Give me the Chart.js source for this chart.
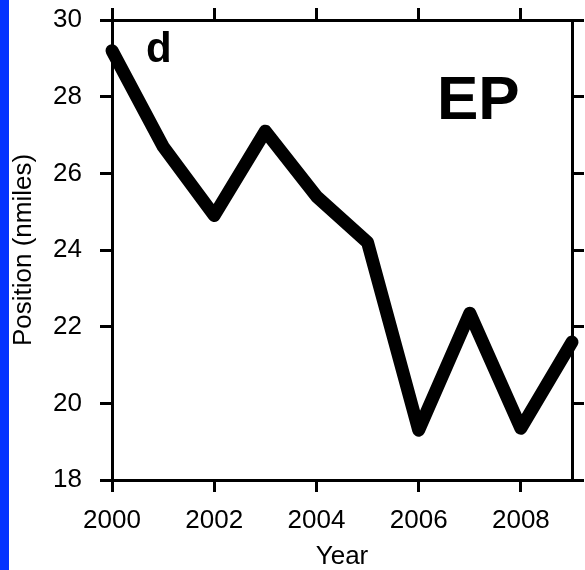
<!DOCTYPE html>
<html>
<head>
<meta charset="utf-8">
<script src="https://cdn.jsdelivr.net/npm/chart.js@4.4.1/dist/chart.umd.min.js"></script>
<style>
    html, body { margin: 0; padding: 0; background: #fff; }
    .wrap { position: relative; width: 585px; height: 570px; }
</style>
</head>
<body>
<div class="wrap"><canvas id="myChart"></canvas></div>
<script>
    //data
    const years = [2000, 2001, 2002, 2003, 2004, 2005, 2006, 2007, 2008, 2009]
    const positions = [29.2, 26.7, 24.9, 27.1, 25.4, 24.2, 19.3, 22.35, 19.35, 21.6]
    const xTicks = [2000, 2002, 2004, 2006, 2008]
    const yTicks = [18, 20, 22, 24, 26, 28, 30]
    const panelLetter = 'd'
    const basinLabel = 'EP'

    const family = '"Liberation Sans", Arial, Helvetica, sans-serif'

    // blue strip on the left + panel texts
    const decor = {
        id: 'decor',
        beforeDraw(chart) {
            const { ctx } = chart
            ctx.save()
            ctx.fillStyle = '#0433ff'
            ctx.fillRect(0, 0, 9, chart.height)
            ctx.restore()
        },
        afterDraw(chart) {
            const { ctx, chartArea: a } = chart
            ctx.save()
            ctx.fillStyle = '#000'
            ctx.textBaseline = 'alphabetic'
            ctx.font = `bold 42px ${family}`
            ctx.fillText(panelLetter, a.left + 34, a.top + 42)
            ctx.font = `bold 62px ${family}`
            ctx.fillText(basinLabel, a.left + 325, a.top + 99)
            ctx.restore()
        }
    }

    // common axis look: black frame, ticks pointing out
    function axis(position, tickList, size, extra) {
        return Object.assign({
            type: 'linear',
            position: position,
            afterBuildTicks: s => { s.ticks = tickList.map(v => ({ value: v })) },
            afterFit: s => {
                if (s.isHorizontal()) s.height = size
                else s.width = size
                // no extra room for labels sticking out at the ends
                s.paddingTop = 0
                s.paddingBottom = 0
                s.paddingLeft = 0
                s.paddingRight = 0
            },
            grid: {
                drawOnChartArea: false,
                color: '#000',
                lineWidth: 3,
                tickLength: 12,
                tickWidth: 3
            },
            border: { color: '#000', width: 3 },
            ticks: { display: false }
        }, extra)
    }

    const ctx = document.getElementById('myChart').getContext('2d')

    const myChart = new Chart(ctx, {
        type: 'line',
        data: {
            datasets: [{
                data: years.map((yr, i) => ({ x: yr, y: positions[i] })),
                borderColor: '#000',
                borderWidth: 13,
                borderJoinStyle: 'round',
                borderCapStyle: 'round',
                pointRadius: 0,
                tension: 0,
                clip: 10
            }]
        },
        options: {
            responsive: true,
            maintainAspectRatio: false,
            animation: false,
            layout: { padding: 0 },
            plugins: {
                legend: { display: false },
                tooltip: { enabled: false }
            },
            scales: {
                x: axis('bottom', xTicks, 90, {
                    min: 2000, max: 2009,
                    ticks: {
                        color: '#000',
                        font: { family: family, size: 26 },
                        padding: 13,
                        maxRotation: 0,
                        callback: v => String(v)
                    },
                    title: {
                        display: true, text: 'Year', color: '#000',
                        font: { family: family, size: 26, lineHeight: 1 },
                        padding: { top: 0, bottom: 0 }
                    }
                }),
                xTop: axis('top', xTicks, 20, { min: 2000, max: 2009 }),
                y: axis('left', yTicks, 112, {
                    min: 18, max: 30,
                    ticks: {
                        color: '#000',
                        font: { family: family, size: 26 },
                        padding: 18,
                        callback: v => String(v)
                    },
                    title: {
                        display: true, text: 'Position (nmiles)', color: '#000',
                        font: { family: family, size: 26 },
                        padding: { top: 8, bottom: 0 }
                    }
                }),
                yRight: axis('right', yTicks, 13, { min: 18, max: 30 })
            }
        },
        plugins: [decor]
    })
</script>
</body>
</html>
